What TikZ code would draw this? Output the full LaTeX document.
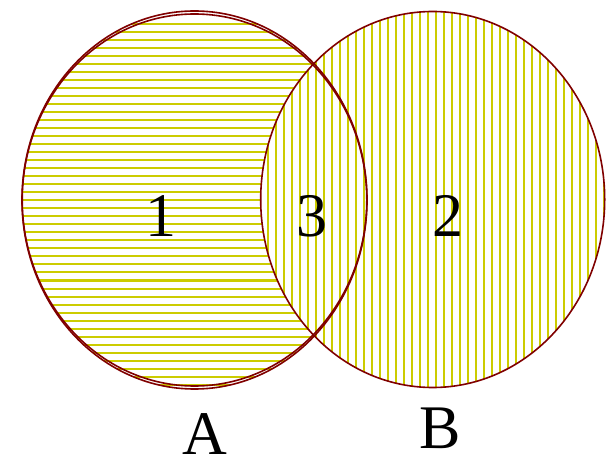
\documentclass[tikz,border=0pt]{standalone}
\usepackage{fontspec}
\setmainfont{Liberation Serif}
\definecolor{hatch}{RGB}{204,204,0}
\definecolor{edge}{RGB}{128,0,0}
\begin{document}
\begin{tikzpicture}[x=1bp,y=-1bp,
  hatchline/.style={line width=2bp,hatch},
  outline/.style={line width=1.6bp,edge},
  lbl/.style={anchor=base,inner sep=0pt,font=\fontsize{62bp}{70bp}\selectfont}]
\useasboundingbox (0,0) rectangle (606,459);
\fill[white] (0,0) rectangle (606,459);
% region A: horizontal hatching
\begin{scope}
  \clip (194.5,200) ellipse [x radius=172.5bp, y radius=189bp];
  \foreach \y in {24.5,32.5,...,392} \draw[hatchline] (0,\y) -- (606,\y);
\end{scope}
% region B (incl. intersection): vertical hatching
\begin{scope}
  \clip (432.7,199.5) ellipse [x radius=172bp, y radius=188bp];
  \fill[white] (250,0) rectangle (606,459);
  \foreach \x in {4,12,...,604} \draw[hatchline] (\x,0) -- (\x,459);
\end{scope}
% outlines
\draw[outline] (194.5,200) ellipse [x radius=172.5bp, y radius=189bp];
\draw[outline] (194.5,200) ellipse [x radius=172.3bp, y radius=186bp];
\draw[outline] (432.7,199.5) ellipse [x radius=172bp, y radius=188bp];
% labels
\node[lbl] (n1) at (161,237) {1};
\node[lbl] (n3) at (311.5,237) {3};
\node[lbl] (n2) at (447.5,237) {2};
\node[lbl] (la) at (204.5,454) {A};
\node[lbl] (lb) at (440,448) {B};
\end{tikzpicture}
\end{document}
